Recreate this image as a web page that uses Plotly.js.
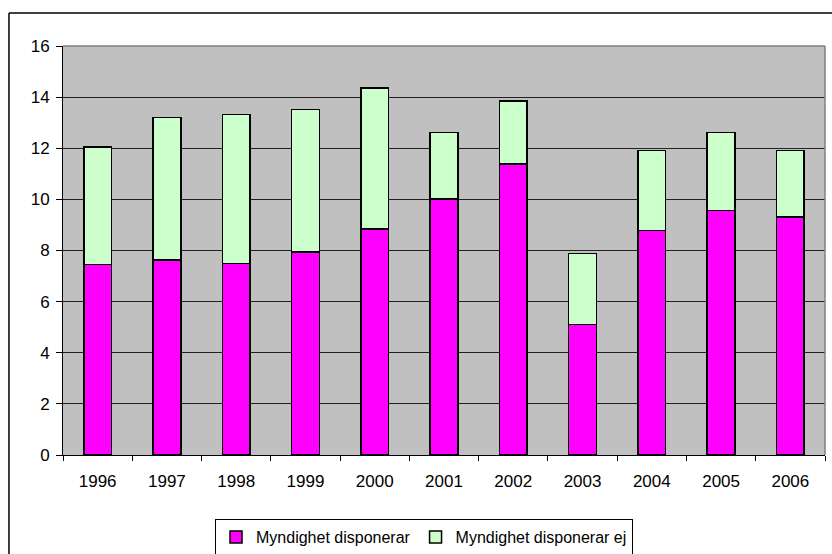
<!DOCTYPE html>
<html>
<head>
<meta charset="utf-8">
<script src="https://cdn.plot.ly/plotly-3.0.1.min.js"></script>
<style>html,body{margin:0;padding:0;background:#fff;}#chart{width:832px;height:554px;}</style>
</head>
<body>
<div id="chart"></div>
<script>
var years = ["1996","1997","1998","1999","2000","2001","2002","2003","2004","2005","2006"];
var disponerar = [7.45, 7.63, 7.50, 7.94, 8.84, 10.02, 11.39, 5.10, 8.79, 9.57, 9.31];
var disponerarEj = [4.59, 5.57, 5.83, 5.58, 5.52, 2.59, 2.46, 2.78, 3.12, 3.04, 2.60];
var seriesNames = ["Myndighet disponerar", "Myndighet disponerar ej"];
var yTicks = [0, 2, 4, 6, 8, 10, 12, 14, 16];

var font = {family: "Liberation Sans, Arial, sans-serif", size: 17, color: "#000"};
var legendFont = {family: "Liberation Sans, Arial, sans-serif", size: 16, color: "#000"};

var traces = [
  {type: "bar", name: seriesNames[0], x: years, y: disponerar,
   marker: {color: "#FF00FF", line: {color: "#000", width: 1.5}}},
  {type: "bar", name: seriesNames[1], x: years, y: disponerarEj,
   marker: {color: "#CCFFCC", line: {color: "#000", width: 1.5}}}
];

var layout = {
  width: 832, height: 554,
  margin: {l: 63, r: 7, t: 46, b: 99, pad: 0, autoexpand: false},
  paper_bgcolor: "#fff",
  plot_bgcolor: "#C0C0C0",
  barmode: "stack",
  bargap: 0.6,
  font: font,
  showlegend: true,
  legend: {
    orientation: "h", x: 0.1995, xanchor: "left", y: -0.1565, yanchor: "top",
    bordercolor: "#000", borderwidth: 1, bgcolor: "#fff", font: legendFont,
    traceorder: "normal"
  },
  xaxis: {
    type: "category", tickson: "boundaries", ticks: "outside", ticklen: 5,
    tickcolor: "#000", showline: true, linecolor: "#000", linewidth: 1,
    showgrid: false, tickfont: font, fixedrange: true, ticklabelstandoff: 11
  },
  yaxis: {
    range: [0, 16], tickvals: yTicks, ticks: "outside", ticklen: 6,
    tickcolor: "#000", showline: true, linecolor: "#000", linewidth: 1,
    showgrid: true, gridcolor: "#222", gridwidth: 1, zeroline: false,
    tickfont: font, fixedrange: true, ticklabelstandoff: 3
  },
  shapes: [
    {type: "line", xref: "paper", yref: "paper", x0: 0, x1: 1, y0: 1, y1: 1,
     line: {color: "#808080", width: 1.5}},
    {type: "line", xref: "paper", yref: "paper", x0: 1, x1: 1, y0: 0, y1: 1,
     line: {color: "#808080", width: 1.5}},
    {type: "line", xref: "paper", yref: "paper", x0: -0.0709, x1: 1.2, y0: 1.0807, y1: 1.0807,
     line: {color: "#000", width: 1.5}},
    {type: "line", xref: "paper", yref: "paper", x0: -0.0709, x1: -0.0709, y0: -0.4, y1: 1.0807,
     line: {color: "#000", width: 1.5}}
  ]
};

Plotly.newPlot("chart", traces, layout, {displayModeBar: false, staticPlot: true});
</script>
</body>
</html>
